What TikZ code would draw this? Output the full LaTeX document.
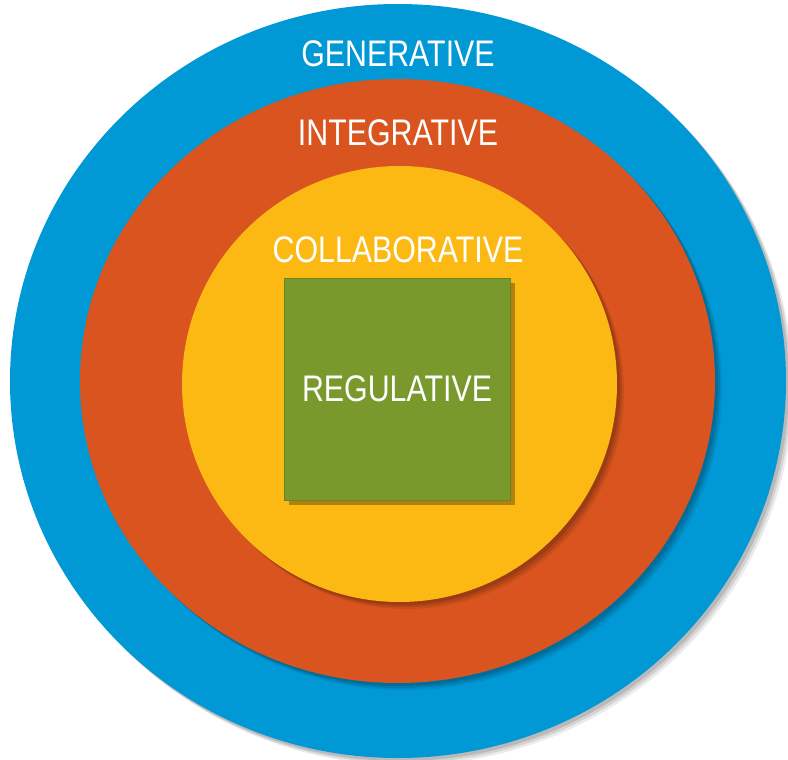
\documentclass[tikz,border=0pt]{standalone}
\usepackage{fontspec}
\setmainfont[FakeStretch=0.82]{Liberation Sans}
\usetikzlibrary{shapes.geometric,shadows}
\definecolor{genblue}{RGB}{0,152,213}
\definecolor{intred}{RGB}{217,84,30}
\definecolor{colyellow}{RGB}{252,185,19}
\definecolor{reggreen}{RGB}{122,153,44}
\begin{document}
\begin{tikzpicture}[
        x=1pt,
        y=-1pt,
        font=\fontsize{37}{40}\selectfont
    ]
    \tikzset{
        softshadow/.style = {
            drop shadow={shadow xshift=7pt, shadow yshift=-7pt, fill=black, opacity=0.08},
            drop shadow={shadow xshift=5pt, shadow yshift=-5pt, fill=black, opacity=0.1},
            drop shadow={shadow xshift=3pt, shadow yshift=-3pt, fill=black, opacity=0.12}},
        ring/.style = {ellipse, inner sep=0pt, draw=none, softshadow},
        ringb/.style = {ring, fill=genblue},
        ringr/.style = {ring, fill=intred},
        ringy/.style = {ring, fill=colyellow},
        sqr/.style = {rectangle, fill=reggreen, draw=reggreen!85!black, inner sep=0pt,
            text=white, drop shadow={shadow xshift=5pt, shadow yshift=-5pt, fill=black, opacity=0.3}},
        lbl/.style = {text=white, inner sep=0pt},
    }
    \useasboundingbox (0,0) rectangle (788,760);
    \node[ringb, minimum width=776pt, minimum height=754pt] at (398,381) (gen) {};
    \node[ringr, minimum width=635pt, minimum height=604pt] at (397.5,381) (int) {};
    \node[ringy, minimum width=435pt, minimum height=436pt] at (399.5,384) (col) {};
    \node[sqr, minimum width=226pt, minimum height=222pt] at (397,389) (reg) {REGULATIVE};
    %
    \node[lbl] at (398,53.5) (genl) {GENERATIVE};
    \node[lbl] at (398,133) (intl) {INTEGRATIVE};
    \node[lbl] at (398,250) (coll) {COLLABORATIVE};
\end{tikzpicture}
\end{document}
